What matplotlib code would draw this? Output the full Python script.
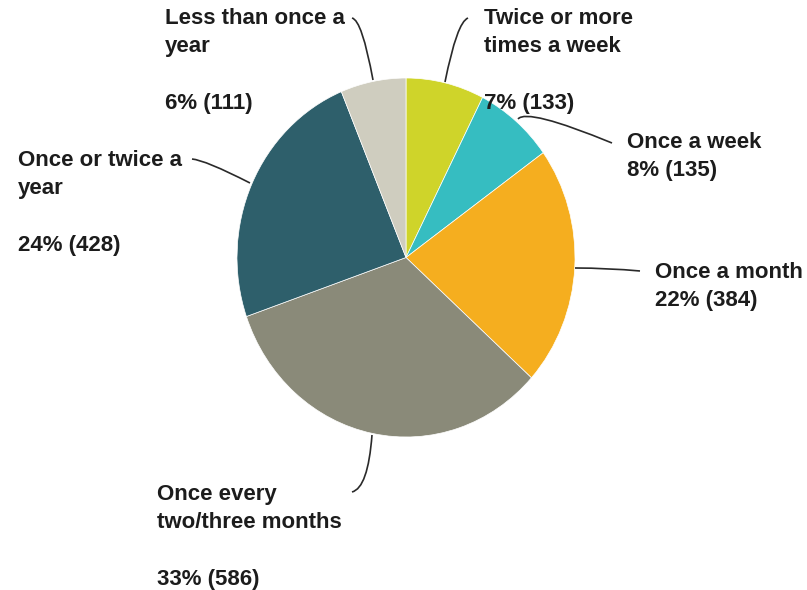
import matplotlib
matplotlib.use("Agg")
import matplotlib.pyplot as plt
from matplotlib.path import Path
from matplotlib.patches import PathPatch

# Survey responses: how often people do it
categories = [
    "Twice or more\ntimes a week",
    "Once a week",
    "Once a month",
    "Once every\ntwo/three months",
    "Once or twice a\nyear",
    "Less than once a\nyear",
]
counts = [133, 135, 384, 586, 428, 111]
percent_labels = ["7%", "8%", "22%", "33%", "24%", "6%"]
colors = ["#cfd42a", "#36bdc1", "#f5ae1f", "#8a8a79", "#2e5f6b", "#cfcdbf"]

W, H = 807, 590
fig = plt.figure(figsize=(W / 100, H / 100), dpi=100)
fig.patch.set_facecolor("white")

# Pie axes (slightly taller than wide, like the original export)
cx, cy, rx, ry = 406, 257.5, 169, 179.5
ax = fig.add_axes([(cx - rx) / W, (H - cy - ry) / H, 2 * rx / W, 2 * ry / H])
ax.pie(counts, colors=colors, startangle=90, counterclock=False, radius=1,
       wedgeprops=dict(edgecolor="white", linewidth=0.5))
ax.set_aspect("auto")
ax.set_xlim(-1, 1)
ax.set_ylim(-1, 1)
ax.axis("off")

# Overlay axes in pixel coordinates for labels and leader lines
ov = fig.add_axes([0, 0, 1, 1], zorder=3)
ov.set_xlim(0, W)
ov.set_ylim(H, 0)
ov.axis("off")

font = dict(family=["Liberation Sans", "DejaVu Sans"], weight="bold",
            size=16, color="#1c1c1c")

# label text: (x, y_top, gap line between name and value)
layout = [
    (484, 8, True),
    (627, 132, False),
    (655, 262, False),
    (157, 484, True),
    (18, 150, True),
    (165, 8, True),
]
for cat, n, pct, (x, y, gap) in zip(categories, counts, percent_labels, layout):
    sep = "\n\n" if gap else "\n"
    ov.text(x, y, f"{cat}{sep}{pct} ({n})", ha="left", va="top",
            linespacing=1.46, **font)

# Leader lines (quadratic curves from slice edge to label)
leaders = [
    [(445, 82), (457, 22), (468, 18)],
    [(518, 119), (527, 108), (612, 143)],
    [(575, 268), (608, 268), (640, 271)],
    [(372, 435), (368, 488), (352, 492)],
    [(250, 183), (205, 160), (192, 159)],
    [(373, 80), (362, 20), (352, 18)],
]
for pts in leaders:
    path = Path(pts, [Path.MOVETO, Path.CURVE3, Path.CURVE3])
    ov.add_patch(PathPatch(path, facecolor="none", edgecolor="#2a2a2a", lw=1.2))

fig.savefig("out.png", dpi=100, facecolor="white")
